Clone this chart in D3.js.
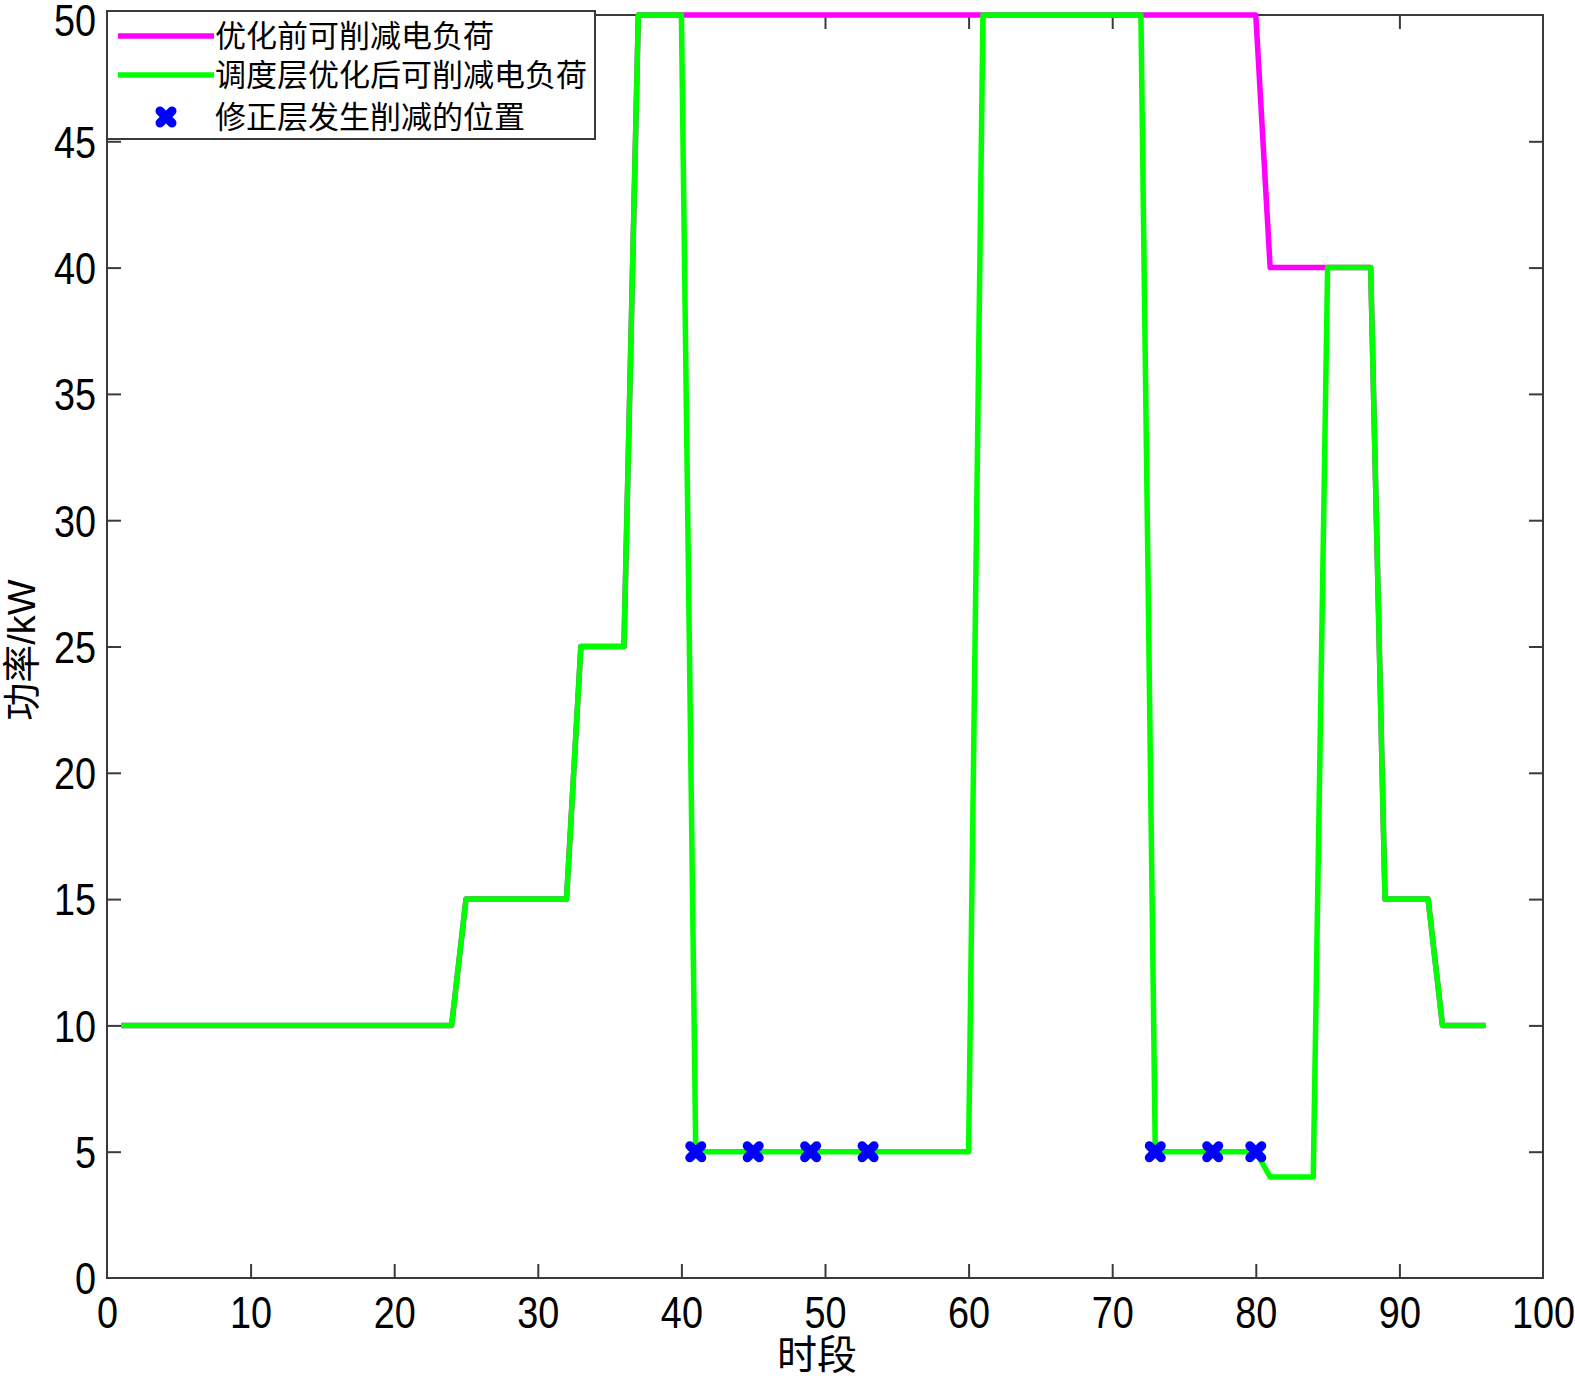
<!DOCTYPE html>
<html><head><meta charset="utf-8">
<script src="https://cdn.jsdelivr.net/npm/d3@7"></script>
<style>
html,body{margin:0;padding:0;background:#fff;}
svg{display:block;}
</style></head>
<body>
<svg id="chart" width="1575" height="1382"></svg>
<script>
// ---- data ----
const periods = d3.range(1, 97);
const beforeValues = [
  10,10,10,10,10,10,10,10,10,10,10,10,10,10,10,10,10,10,10,10,10,10,10,10,
  15,15,15,15,15,15,15,15,
  25,25,25,25,
  50,50,50,50,50,50,50,50,50,50,50,50,50,50,50,50,50,50,50,50,50,50,50,50,
  50,50,50,50,50,50,50,50,50,50,50,50,50,50,50,50,50,50,50,50,
  40,40,40,40,
  40,40,40,40,
  15,15,15,15,
  10,10,10,10
];
const afterValues = [
  10,10,10,10,10,10,10,10,10,10,10,10,10,10,10,10,10,10,10,10,10,10,10,10,
  15,15,15,15,15,15,15,15,
  25,25,25,25,
  50,50,50,50,
  5,5,5,5,5,5,5,5,5,5,5,5,5,5,5,5,5,5,5,5,
  50,50,50,50,50,50,50,50,50,50,50,50,
  5,5,5,5,5,5,5,5,
  4,4,4,4,
  40,40,40,40,
  15,15,15,15,
  10,10,10,10
];
const cutPeriods = [41, 45, 49, 53, 73, 77, 80];
const cutValues = [5, 5, 5, 5, 5, 5, 5];
const xTicks = [0,10,20,30,40,50,60,70,80,90,100];
const yTicks = [0,5,10,15,20,25,30,35,40,45,50];
const legendLabels = ["优化前可削减电负荷", "调度层优化后可削减电负荷", "修正层发生削减的位置"];
const xLabel = "时段";
const yLabel = "功率/kW";

// ---- layout ----
const L = 107, R = 1543, T = 15, B = 1278;
const svg = d3.select("#chart");
const x = d3.scaleLinear().domain([0, 100]).range([L, R]);
const y = d3.scaleLinear().domain([0, 50]).range([B, T]);
const axisColor = "#3a3a3a";
const numFont = "'Liberation Sans', Arial, sans-serif";
const cjkFont = "'Liberation Sans', 'Noto Sans CJK SC', sans-serif";

// frame
svg.append("rect").attr("x", L).attr("y", T).attr("width", R - L).attr("height", B - T)
  .attr("fill", "none").attr("stroke", axisColor).attr("stroke-width", 2);

const tickLen = 14;
const xPad = 19, yPad = 11;
const gx = svg.append("g").attr("transform", `translate(0,${B})`)
  .call(d3.axisBottom(x).tickValues(xTicks).tickSizeInner(-tickLen).tickSizeOuter(0).tickPadding(xPad));
const gxTop = svg.append("g").attr("transform", `translate(0,${T})`)
  .call(d3.axisTop(x).tickValues(xTicks).tickSizeInner(-tickLen).tickSizeOuter(0).tickFormat(""));
const gy = svg.append("g").attr("transform", `translate(${L},0)`)
  .call(d3.axisLeft(y).tickValues(yTicks).tickSizeInner(-tickLen).tickSizeOuter(0).tickPadding(yPad));
const gyR = svg.append("g").attr("transform", `translate(${R},0)`)
  .call(d3.axisRight(y).tickValues(yTicks).tickSizeInner(-tickLen).tickSizeOuter(0).tickFormat(""));
[gx, gxTop, gy, gyR].forEach(g => {
  g.select(".domain").remove();
  g.selectAll(".tick line").attr("stroke", axisColor).attr("stroke-width", 2);
});
gx.selectAll(".tick line").filter(d => d === 0 || d === 100).remove();
gxTop.selectAll(".tick line").filter(d => d === 0 || d === 100).remove();
gy.selectAll(".tick line").filter(d => d === 0 || d === 50).remove();
gyR.selectAll(".tick line").filter(d => d === 0 || d === 50).remove();
gx.selectAll(".tick text").attr("font-family", numFont).attr("font-size", 44).attr("fill", "#000")
  .attr("transform", "scale(0.86,1)");
gy.selectAll(".tick text").attr("font-family", numFont).attr("font-size", 44).attr("fill", "#000")
  .attr("x", 0).attr("dy", "0.36em")
  .attr("transform", d => `translate(${-yPad},${d === 50 ? 5 : 0}) scale(0.86,1)`);

// lines
const line = d3.line().x((d, i) => x(periods[i])).y(d => y(d));
svg.append("path").datum(beforeValues).attr("d", line)
  .attr("fill", "none").attr("stroke", "#ff00ff").attr("stroke-width", 5.5).attr("stroke-linejoin", "round");
svg.append("path").datum(afterValues).attr("d", line)
  .attr("fill", "none").attr("stroke", "#00ff00").attr("stroke-width", 5.5).attr("stroke-linejoin", "round");

// markers
function drawX(g, cx, cy) {
  const s = 6;
  g.append("path")
    .attr("d", `M${cx - s},${cy - s}L${cx + s},${cy + s}M${cx - s},${cy + s}L${cx + s},${cy - s}`)
    .attr("stroke", "#0000ff").attr("stroke-width", 9).attr("stroke-linecap", "round").attr("fill", "none");
}
const mg = svg.append("g");
cutPeriods.forEach((p, i) => drawX(mg, x(p), y(cutValues[i])));

// axis labels
svg.append("text").attr("x", 817).attr("y", 1355).attr("text-anchor", "middle").attr("dominant-baseline", "central")
  .attr("font-family", cjkFont).attr("font-size", 40).attr("fill", "#000").text(xLabel);
svg.append("text").attr("transform", "translate(22,650) rotate(-90)").attr("text-anchor", "middle")
  .attr("dominant-baseline", "central").attr("font-family", cjkFont).attr("font-size", 38).attr("fill", "#000").text(yLabel);

// legend
const lg = svg.append("g");
lg.append("rect").attr("x", L).attr("y", 11).attr("width", 488).attr("height", 128)
  .attr("fill", "#fff").attr("stroke", axisColor).attr("stroke-width", 2);
const rowsY = [36, 75, 117];
lg.append("line").attr("x1", 118).attr("x2", 214).attr("y1", rowsY[0]).attr("y2", rowsY[0])
  .attr("stroke", "#ff00ff").attr("stroke-width", 5.5);
lg.append("line").attr("x1", 118).attr("x2", 214).attr("y1", rowsY[1]).attr("y2", rowsY[1])
  .attr("stroke", "#00ff00").attr("stroke-width", 5.5);
drawX(lg, 166, rowsY[2]);
legendLabels.forEach((t, i) => {
  lg.append("text").attr("x", 215).attr("y", rowsY[i]).attr("dominant-baseline", "central")
    .attr("font-family", cjkFont).attr("font-size", 31).attr("fill", "#000").text(t);
});
</script>
</body></html>
